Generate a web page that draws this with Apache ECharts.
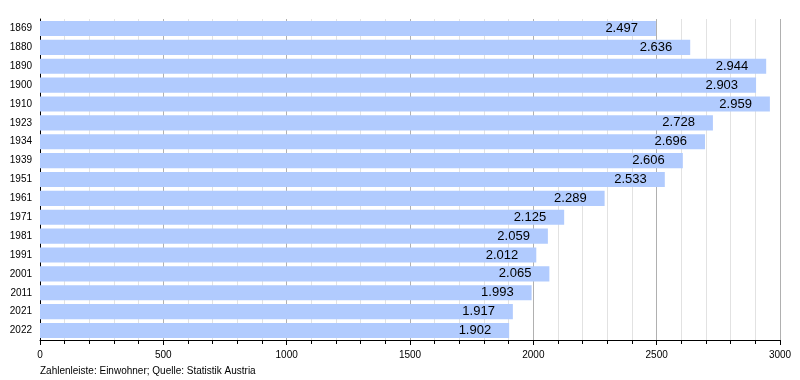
<!DOCTYPE html>
<html><head><meta charset="utf-8">
<script src="https://cdn.jsdelivr.net/npm/echarts@6/dist/echarts.min.js"></script>
<style>html,body{margin:0;padding:0;background:#fff}#c{width:800px;height:380px}</style>
</head><body><div id="c"></div>
<script>
const years = ['1869','1880','1890','1900','1910','1923','1934','1939','1951','1961','1971','1981','1991','2001','2011','2021','2022'];
const population = [2497,2636,2944,2903,2959,2728,2696,2606,2533,2289,2125,2059,2012,2065,1993,1917,1902];
const footer = 'Zahlenleiste: Einwohner; Quelle: Statistik Austria';

const chart = echarts.init(document.getElementById('c'), null, {renderer:'canvas'});
const font = 'Liberation Sans, Arial, sans-serif';
chart.setOption({
  animation:false,
  textStyle:{fontFamily:font},
  grid:{left:40,right:20,top:19,bottom:40,containLabel:false},
  xAxis:{
    type:'value',min:0,max:3000,interval:500,
    axisLine:{show:true,lineStyle:{color:'#000',width:1}},
    axisTick:{show:true,length:5,lineStyle:{color:'#000'}},
    minorTick:{show:true,splitNumber:5,length:4,lineStyle:{color:'#000'}},
    splitLine:{show:true,lineStyle:{color:'#b0b0b0',width:1}},
    minorSplitLine:{show:true,lineStyle:{color:'#e2e2e2',width:1}},
    axisLabel:{color:'#000',fontSize:10,margin:10,fontFamily:font,formatter:v=>String(v)}
  },
  yAxis:{
    type:'category',data:years,inverse:true,
    axisLine:{show:true,lineStyle:{color:'#000',width:1}},
    axisTick:{show:false},
    axisLabel:{color:'#000',fontSize:10,margin:8,fontFamily:font}
  },
  series:[{
    type:'bar',data:population,barCategoryGap:'20%',
    itemStyle:{color:'#b1cbfe'},
    label:{show:true,position:'insideRight',distance:18,color:'#000',fontSize:13,fontFamily:font,
      formatter:p=>{const v=p.value;return Math.floor(v/1000)+'.'+String(v%1000).padStart(3,'0');}}
  }],
  graphic:[{type:'text',left:40,top:366,style:{text:footer,fill:'#000',font:'10px '+font}}]
});
</script></body></html>
